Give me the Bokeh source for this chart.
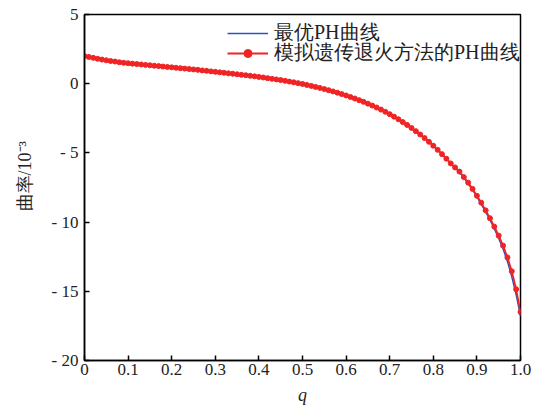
from bokeh.plotting import figure
from bokeh.models import FixedTicker, Legend, LegendItem
from bokeh.embed import file_html
from bokeh.resources import INLINE

q = [round(i * 0.01, 2) for i in range(101)]

# simulated-annealing genetic PH curve (red, with markers)
sa_curve = [
    2.00, 1.93, 1.87, 1.80, 1.74, 1.69, 1.64, 1.60, 1.55, 1.51,
    1.48, 1.45, 1.42, 1.39, 1.36, 1.33, 1.30, 1.27, 1.24, 1.21,
    1.18, 1.15, 1.12, 1.09, 1.06, 1.03, 1.00, 0.96, 0.93, 0.89,
    0.86, 0.82, 0.79, 0.75, 0.72, 0.68, 0.64, 0.61, 0.57, 0.53,
    0.49, 0.45, 0.40, 0.35, 0.31, 0.26, 0.21, 0.15, 0.10, 0.04,
    -0.02, -0.09, -0.16, -0.23, -0.31, -0.39, -0.47, -0.56, -0.65, -0.75,
    -0.85, -0.96, -1.07, -1.19, -1.31, -1.44, -1.58, -1.72, -1.87, -2.03,
    -2.20, -2.38, -2.57, -2.77, -2.98, -3.20, -3.43, -3.67, -3.93, -4.20,
    -4.48, -4.78, -5.09, -5.42, -5.76, -6.05, -6.35, -6.75, -7.15, -7.60,
    -8.10, -8.60, -9.15, -9.72, -10.33, -10.98, -11.70, -12.55, -13.55, -14.85,
    -16.50,
]

# optimal PH curve (blue line)
opt_curve = [
    2.00, 1.93, 1.87, 1.80, 1.74, 1.69, 1.64, 1.60, 1.55, 1.51,
    1.48, 1.45, 1.42, 1.39, 1.36, 1.33, 1.30, 1.27, 1.24, 1.21,
    1.18, 1.15, 1.12, 1.09, 1.06, 1.03, 1.00, 0.96, 0.93, 0.89,
    0.86, 0.82, 0.79, 0.75, 0.72, 0.68, 0.64, 0.61, 0.57, 0.53,
    0.49, 0.45, 0.40, 0.35, 0.31, 0.26, 0.21, 0.15, 0.10, 0.04,
    -0.02, -0.09, -0.16, -0.23, -0.31, -0.39, -0.47, -0.56, -0.65, -0.75,
    -0.85, -0.96, -1.07, -1.19, -1.31, -1.44, -1.58, -1.72, -1.87, -2.03,
    -2.20, -2.38, -2.57, -2.77, -2.98, -3.20, -3.43, -3.67, -3.93, -4.20,
    -4.48, -4.78, -5.09, -5.42, -5.76, -6.08, -6.40, -6.80, -7.22, -7.68,
    -8.18, -8.70, -9.26, -9.85, -10.50, -11.18, -11.95, -12.85, -13.95, -15.25,
    -16.80,
]

x_ticks = [0, 0.1, 0.2, 0.3, 0.4, 0.5, 0.6, 0.7, 0.8, 0.9, 1.0]
y_ticks = [5, 0, -5, -10, -15, -20]
y_tick_labels = {5: "5", 0: "0", -5: "- 5", -10: "- 10", -15: "- 15", -20: "- 20"}
x_tick_labels = {1: "1.0"}
legend_labels = ["最优PH曲线", "模拟遗传退火方法的PH曲线"]

SERIF = "Times New Roman"

p = figure(width=539, height=413, x_range=(0, 1.0), y_range=(-20, 5),
           output_backend="svg", toolbar_location=None,
           min_border_left=84, min_border_right=19, min_border_top=14,
           min_border_bottom=53)
p.grid.visible = False
p.outline_line_color = "black"
p.outline_line_width = 1.5
p.background_fill_color = "white"
p.border_fill_color = "white"

r_opt = p.line(q, opt_curve, line_color="#2f4fc4", line_width=1.4)
r_sa = p.line(q, sa_curve, line_color="#f02424", line_width=1.8)
r_sa_pts = p.scatter(q, sa_curve, size=5, fill_color="#f02424", line_color="#f02424")

for ax in (p.xaxis[0], p.yaxis[0]):
    ax.axis_line_width = 1.5
    ax.axis_line_color = "black"
    ax.major_tick_in = 5
    ax.major_tick_out = 0
    ax.major_tick_line_width = 1.5
    ax.minor_tick_line_color = None
    ax.major_label_text_font = SERIF
    ax.major_label_text_font_size = "17px"
    ax.major_label_text_color = "#222222"
    ax.axis_label_text_font = SERIF
    ax.axis_label_text_font_size = "18px"
    ax.axis_label_text_color = "#222222"
    ax.axis_label_text_font_style = "normal"

p.xaxis[0].ticker = FixedTicker(ticks=x_ticks)
p.xaxis[0].major_label_overrides = x_tick_labels
p.xaxis[0].axis_label = "q"
p.xaxis[0].axis_label_text_font_style = "italic"
p.xaxis[0].major_label_standoff = 3
p.xaxis[0].axis_label_standoff = 7

p.yaxis[0].ticker = FixedTicker(ticks=y_ticks)
p.yaxis[0].major_label_overrides = y_tick_labels
p.yaxis[0].axis_label = "\u00a0\u00a0\u00a0\u00a0\u00a0曲率/10⁻³"
p.yaxis[0].major_label_standoff = 6
p.yaxis[0].axis_label_standoff = 14


def make_legend(label, renderers, loc):
    lg = Legend(items=[LegendItem(label=label, renderers=renderers)], location=loc)
    lg.background_fill_alpha = 0
    lg.border_line_color = None
    lg.label_text_font = SERIF
    lg.label_text_font_size = "20px"
    lg.label_text_color = "#222222"
    lg.glyph_width = 41
    lg.glyph_height = 20
    lg.label_height = 20
    lg.spacing = 0
    lg.padding = 0
    lg.margin = 0
    lg.label_standoff = 6
    return lg


p.add_layout(make_legend(legend_labels[0], [r_opt], (143, 314)))
p.add_layout(make_legend(legend_labels[1], [r_sa, r_sa_pts], (143, 294)))

open("out.html", "w").write(file_html(p, INLINE))
